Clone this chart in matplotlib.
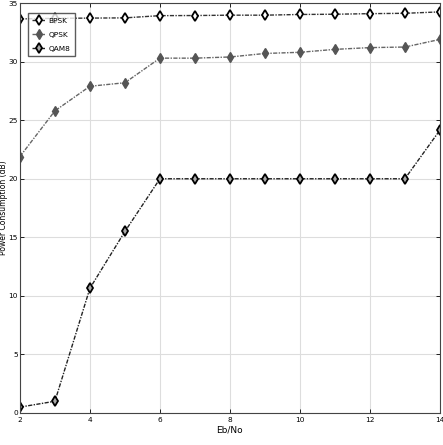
import matplotlib
matplotlib.use("Agg")
import matplotlib.pyplot as plt

ebno = [2, 3, 4, 5, 6, 7, 8, 9, 10, 11, 12, 13, 14]

bpsk = [33.65, 33.7, 33.72, 33.74, 33.93, 33.94, 33.97, 33.97, 34.03, 34.05, 34.1, 34.13, 34.25]
qpsk = [21.9, 25.8, 27.9, 28.2, 30.3, 30.3, 30.4, 30.7, 30.8, 31.05, 31.2, 31.25, 31.9]
qam8 = [0.5, 1.0, 10.65, 15.5, 20.0, 20.0, 20.0, 20.0, 20.0, 20.0, 20.0, 20.0, 24.15]

x_ticks = [2, 4, 6, 8, 10, 12, 14]
y_ticks = [0, 5, 10, 15, 20, 25, 30, 35]

plt.rcParams["font.family"] = ["Liberation Sans Narrow", "DejaVu Sans"]

fig = plt.figure(figsize=(4.43, 4.45), dpi=100)
ax = fig.add_axes([0.045, 0.072, 0.948, 0.921])

dash = (0, (3, 1, 1, 1))
ax.plot(ebno, bpsk, linestyle=dash, color="#333333", linewidth=1.0,
        marker="d", markersize=5, markerfacecolor="white",
        markeredgecolor="black", markeredgewidth=1.3, label="BPSK")
ax.plot(ebno, qpsk, linestyle=dash, color="#666666", linewidth=1.0,
        marker="d", markersize=5, markerfacecolor="#555555",
        markeredgecolor="#555555", markeredgewidth=1.0, label="QPSK")
ax.plot(ebno, qam8, linestyle=dash, color="#222222", linewidth=1.0,
        marker="d", markersize=5, markerfacecolor="#aaaaaa",
        markeredgecolor="black", markeredgewidth=1.3, label="QAM8")

ax.set_xlim(2, 14)
ax.set_ylim(0, 35)
ax.set_xticks(x_ticks)
ax.set_yticks(y_ticks)
ax.tick_params(direction="in", labelsize=5.3, length=3, width=0.6,
               top=True, right=True, pad=3)
ax.tick_params(axis="y", pad=1.5)
ax.grid(True, color="#dddddd", linewidth=0.8)
for s in ax.spines.values():
    s.set_linewidth(0.8)
    s.set_color("#444444")

ax.set_xlabel("Eb/No", fontsize=6.5, family="DejaVu Sans", labelpad=2)
ax.set_ylabel("Power Consumption (dB)", fontsize=5.5, family="DejaVu Sans")
ax.yaxis.set_label_coords(-0.0285, 0.5)

ax.legend(loc="upper left", fontsize=5.3, frameon=True, fancybox=False,
          edgecolor="#333333", borderpad=0.6, labelspacing=1.1,
          handlelength=1.8, handletextpad=0.4,
          bbox_to_anchor=(0.01, 0.985))

fig.savefig("out.png", dpi=100)
